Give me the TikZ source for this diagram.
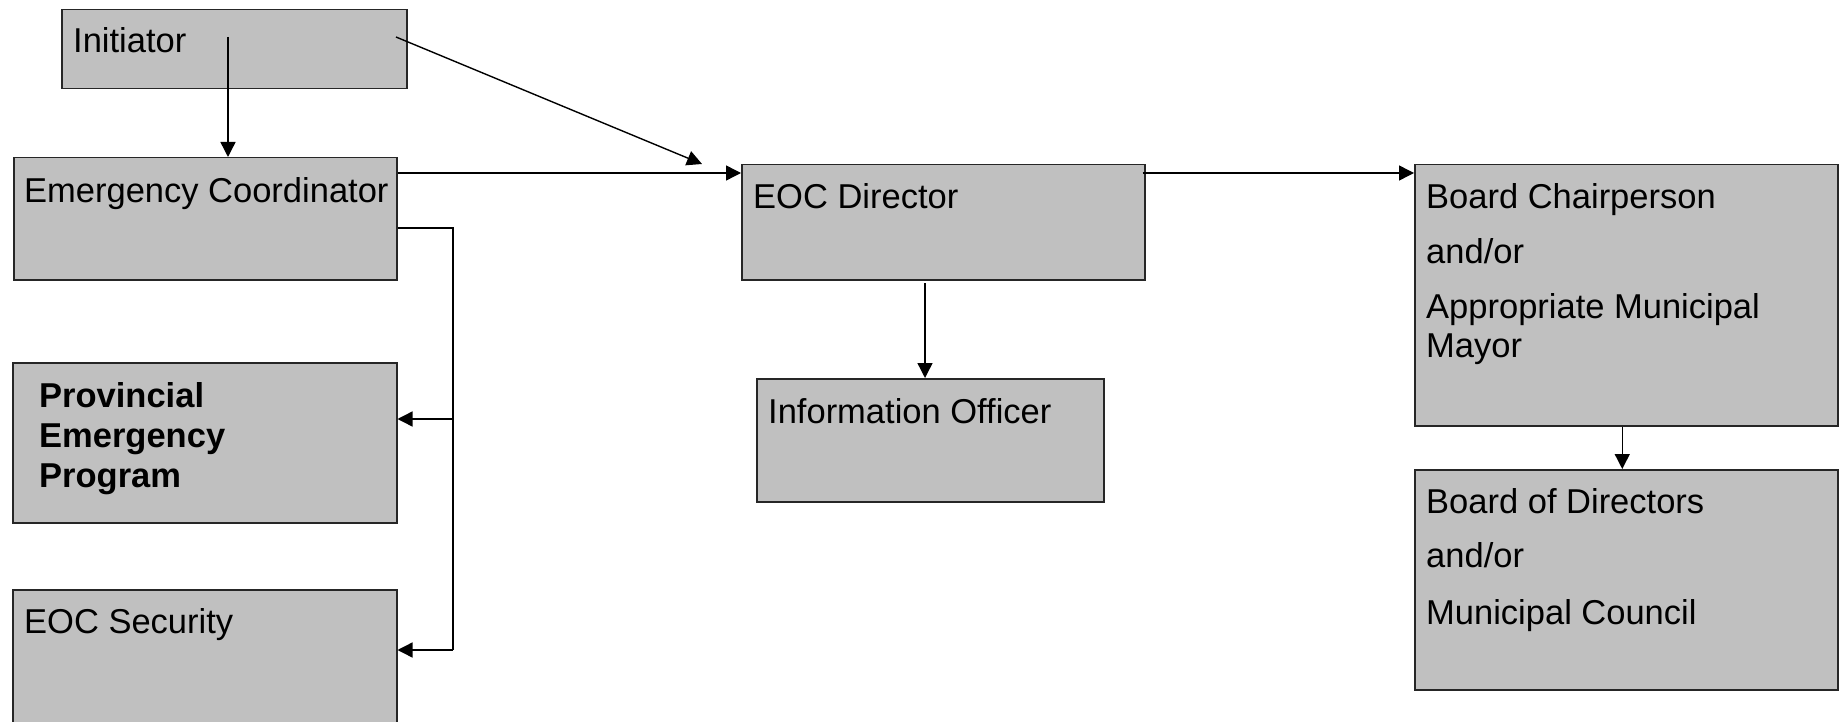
\documentclass[tikz,border=0pt]{standalone}
\usepackage{fontspec}
\setmainfont{Liberation Sans}
\usetikzlibrary{positioning}
\usetikzlibrary{arrows.meta}
\definecolor{boxgray}{RGB}{192,192,192}
\tikzset{>={Triangle[length=15pt,width=15pt]}}
\tikzstyle{box} = [rectangle, draw=black!85, fill=boxgray, line width=1.5pt, anchor=north west, inner sep=0pt]
\tikzstyle{txt} = [anchor=base west, inner sep=0pt, font=\fontsize{34.5}{39}\selectfont]
\tikzstyle{link} = [line width=1.4pt, draw=black]

\begin{document}
\begin{tikzpicture}[x=1pt, y=-1pt]
\clip (0,0) rectangle (1841,722);
\node [box, minimum width=345pt, minimum height=79pt] (init) at (61,9) {};
\node [box, minimum width=383pt, minimum height=122pt] (ec) at (13,157) {};
\node [box, minimum width=384pt, minimum height=160pt] (pep) at (12,362) {};
\node [box, minimum width=384pt, minimum height=160pt] (sec) at (12,589) {};
\node [box, minimum width=403pt, minimum height=115pt] (eoc) at (741,164) {};
\node [box, minimum width=347pt, minimum height=123pt] (info) at (756,378) {};
\node [box, minimum width=423pt, minimum height=261pt] (bc) at (1414,164) {};
\node [box, minimum width=423pt, minimum height=220pt] (bd) at (1414,469) {};

\node [txt] (initT) at ([shift={(12,44)}]init.north west) {Initiator};
\node [txt] (ecT) at ([shift={(11,46)}]ec.north west) {Emergency Coordinator};
\node [txt, font=\fontsize{34.5}{40}\selectfont\bfseries] (pepT) at ([shift={(27,45)}]pep.north west) {\parbox[t]{300pt}{Provincial\\Emergency\\Program}};
\node [txt] (secT) at ([shift={(12,44)}]sec.north west) {EOC Security};
\node [txt] (eocT) at ([shift={(12,44)}]eoc.north west) {EOC Director};
\node [txt] (infoT) at ([shift={(12,45)}]info.north west) {Information Officer};
\node [txt] (bcT) at ([shift={(12,44)}]bc.north west) {\parbox[t]{400pt}{Board Chairperson\\[16pt]and/or\\[16pt]Appropriate Municipal\\Mayor}};
\node [txt] (bdT) at ([shift={(12,44)}]bd.north west) {\parbox[t]{400pt}{Board of Directors\\[15pt]and/or\\[18pt]Municipal Council}};

\coordinate (initdown) at (228,37);
\coordinate (initdiag) at (396,37);
\coordinate (diagend) at (702,164);
\coordinate (toplevel) at (0,173);
\coordinate (bus) at (453,228);
\coordinate (busA) at (453,419);
\coordinate (busB) at (453,650);
\coordinate (eocdown) at (925,283);

\draw [link, ->] (initdown) -- (initdown |- ec.north);
\draw [link, ->] (initdiag) -- (diagend);
\draw [link, ->] (ec.east |- toplevel) -- (eoc.west |- toplevel);
\draw [link] (ec.east |- bus) -- (bus) -- (busB);
\draw [link, ->] (busA) -- (busA -| pep.east);
\draw [link, ->] (busB) -- (busB -| sec.east);
\draw [link, ->] (eocdown) -- (eocdown |- info.north);
\draw [link, ->] ([xshift=-3pt]eoc.east |- toplevel) -- (bc.west |- toplevel);
\draw [link, ->] ([xshift=-4pt]bc.south) -- ([xshift=-4pt]bd.north);
\end{tikzpicture}
\end{document}
